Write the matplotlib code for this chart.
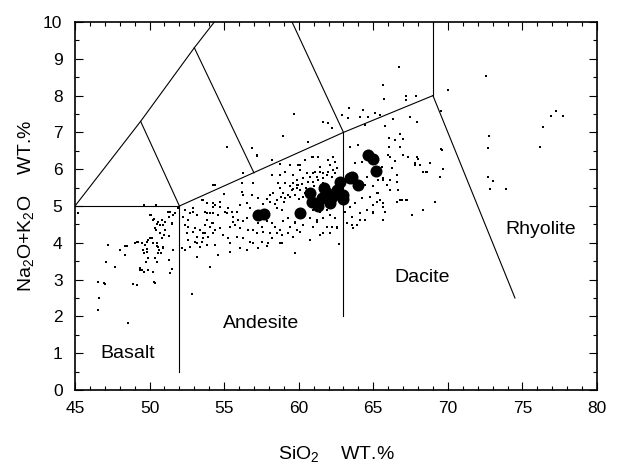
import matplotlib
matplotlib.use("Agg")
import matplotlib.pyplot as plt
from matplotlib.ticker import MultipleLocator

plt.rcParams['font.family'] = ['Liberation Sans', 'DejaVu Sans']
plt.rcParams['mathtext.default'] = 'regular'

# small dots: SiO2 and Na2O+K2O
small_sio2 = [
    # basalt field
    47.2, 48.35, 47.1, 47.7, 46.56, 46.95, 46.6, 46.52, 48.53, 48.87, 49.14, 50.3, 49.0, 49.36, 49.6, 50.25,
    50.08, 51.26, 51.55, 51.33, 50.3, 50.81, 50.48, 51.04, 51.48, 50.92, 50.43, 50.99, 51.33, 50.14, 49.92,
    49.81, 50.25, 49.25, 50.48, 49.7, 50.59, 50.88, 51.6, 49.58, 49.85, 50.66, 49.63, 50.75, 50.37, 51.33,
    49.76, 50.48, 49.47, 51.48, 50.25, 51.37, 50.37,
    45.22, 49.6, 50.4, 50.03, 50.25, 51.37, 51.7, 50.59, 50.7, 51.48, 50.36, 51.03, 50.7, 50.03, 50.81,
    49.14, 49.47, 48.02, 48.46, 49.81, 50.48, 50.92, 50.59, 49.92, 48.35, 49.36, 49.92, 51.9, 47.0,
    # andesite, low silica side
    52.15, 52.38, 52.71, 52.27, 52.6, 52.94, 53.2, 52.38, 52.49, 53.05, 53.38, 52.6, 53.16, 53.16, 52.71,
    53.38, 52.38, 53.72, 53.94, 52.82, 52.93, 53.49, 53.72, 54.05, 53.83, 54.28, 54.28, 52.6, 52.93, 53.61,
    54.05, 53.05, 53.49, 53.83, 53.16, 54.05,
    # andesite, main cloud
    54.39, 54.99, 56.17, 56.29, 56.85, 57.29, 58.07, 58.3, 58.63, 58.75, 58.97, 58.52, 59.08, 59.42, 59.08,
    59.53, 59.86, 53.83, 54.39, 54.72, 55.28, 55.84, 56.06, 56.51, 56.73, 58.52, 58.86, 53.83, 54.28, 54.61,
    55.17, 55.62, 55.95, 56.29, 56.51, 57.29, 57.52, 57.85, 58.19, 58.41, 58.75, 58.97, 59.3, 59.42, 59.75,
    59.86, 53.72, 54.16, 54.39, 54.72, 55.39, 55.73, 56.06, 56.62, 56.96, 57.18, 57.63, 58.07, 58.52, 58.86,
    59.3, 59.64, 54.28, 53.6, 54.95, 55.28, 55.84, 56.29, 56.73, 56.96, 57.52, 57.97, 58.75, 54.39, 55.39,
    56.06, 56.51, 57.29, 57.85, 54.61, 55.39, 59.75, 54.05,
    57.18, 58.19, 58.75, 59.42, 59.97, 59.08, 58.75, 58.19, 59.64, 60.09, 60.87, 61.32, 61.99, 60.98, 61.43,
    56.29, 56.17, 56.96, 54.39, 53.6, 54.27, 54.72, 55.06, 55.5, 53.72, 55.62,
    60.09, 60.76, 59.75, 58.86, 58.19, 61.43, 62.21, 61.2,
    # andesite / dacite streak
    60.65, 60.98, 60.09, 60.42, 62.32, 62.43, 61.99, 62.1, 61.43, 61.09, 60.53, 60.76, 60.31, 59.86, 61.65,
    61.99, 62.32, 62.55, 59.64, 59.42, 59.97, 60.98, 61.32, 61.65, 63.44, 64.0, 64.22, 63.77, 64.56, 64.45,
    65.0, 65.34, 65.67, 65.23, 65.45, 64.78, 64.22, 63.77, 63.44, 63.1, 63.55, 64.11, 64.56, 65.0, 65.67,
    65.67, 63.22, 63.89, 59.53, 59.75, 60.09, 60.31, 60.98, 61.43, 61.87, 60.76, 61.2, 61.65, 62.1, 62.43,
    59.75, 60.31, 60.98, 61.87, 62.55,
    59.6, 59.9, 60.2, 60.5, 60.6, 61.0, 61.2, 61.6, 61.9, 62.2, 62.4, 60.0, 60.4, 59.3, 59.0, 58.8, 58.4,
    58.1, 57.9, 57.6, 57.8,
    # dacite field
    66.08, 66.01, 67.02, 67.35, 68.02, 66.46, 67.8, 68.13, 68.36, 68.8, 68.58, 69.59, 69.65, 69.47, 66.23,
    66.57, 65.67, 66.12, 65.9, 66.57, 66.12, 65.34, 65.23, 65.0, 65.67, 66.57, 66.9, 67.24, 66.68, 69.14,
    68.36, 67.57, 65.79, 65.0, 64.45, 64.11, 63.66, 63.55, 62.7, 62.1, 61.65, 62.54,
    66.79, 67.02, 67.35, 67.91, 66.12, 66.46, 65.56, 66.79, 67.2, 67.8, 68.54,
    # trachytic fields and above
    66.75, 65.63, 65.74, 67.2, 67.2, 67.86, 64.33, 63.4, 63.33, 64.11, 64.67, 65.12, 65.45, 62.88, 61.99,
    61.65, 62.21, 66.35, 67.46, 67.91, 64.45, 65.79, 66.79, 67.02, 66.08,
    59.68, 58.97, 55.21, 56.85, 57.18, 54.27,
    # rhyolite side
    70.03, 72.56, 72.78, 72.71, 76.18, 76.89, 77.23, 77.7, 76.4, 72.72, 73.0, 72.83, 73.9, 69.52, 69.52,
]
small_alk = [
    3.94, 3.90, 3.49, 3.35, 2.93, 2.90, 2.51, 2.17, 1.81, 2.88, 2.85, 2.93, 4.0, 3.26, 3.2, 3.2,
    4.76, 4.85, 4.76, 4.70, 4.64, 4.62, 4.51, 4.57, 4.51, 4.48, 4.35, 4.21, 4.18, 4.12, 4.08,
    4.03, 3.99, 4.03, 4.0, 3.94, 3.89, 3.89, 3.8, 3.8, 3.82, 3.8, 3.71, 3.71, 3.58, 3.53,
    3.49, 3.49, 3.26, 3.29, 3.22, 3.17, 2.92,
    4.8, 5.03, 5.03, 4.76, 4.62, 4.85, 4.8, 4.57, 4.48, 4.53, 4.39, 4.35, 4.26, 4.12, 4.12,
    4.03, 3.99, 3.8, 3.9, 3.76, 3.9, 3.85, 3.71, 3.58, 3.67, 3.31, 3.26, 4.95, 2.88,
    3.85, 4.89, 4.8, 4.71, 4.62, 4.85, 4.75, 4.48, 4.26, 4.39, 4.35, 4.08, 4.17, 3.99, 3.89,
    3.89, 3.8, 4.26, 4.17, 2.62, 4.94, 5.16, 4.85, 4.8, 4.62, 4.98, 4.53, 4.44, 4.3, 4.26,
    4.44, 4.03, 4.03, 3.94, 3.62, 3.35,
    5.57, 5.33, 5.39, 5.3, 5.3, 5.21, 5.3, 5.35, 5.62, 5.48, 5.35, 5.16, 5.21, 5.25, 5.62,
    5.43, 5.57, 5.07, 5.03, 4.98, 4.94, 4.85, 5.03, 5.07, 4.94, 4.94, 4.89, 4.8, 4.8, 4.76,
    4.8, 4.71, 4.62, 4.58, 4.67, 4.53, 4.44, 4.58, 4.53, 4.44, 4.35, 4.58, 4.67, 4.44, 4.53,
    4.35, 4.48, 4.53, 4.35, 4.39, 4.44, 4.48, 4.39, 4.35, 4.35, 4.26, 4.3, 4.26, 4.26, 4.21,
    4.26, 4.17, 4.26, 4.12, 4.21, 4.12, 4.17, 4.12, 4.03, 3.99, 4.03, 3.99, 3.99, 3.94, 3.99,
    3.85, 3.8, 3.85, 3.9, 3.67, 3.76, 3.71, 3.33,
    6.36, 6.25, 6.14, 6.11, 6.11, 5.93, 5.84, 5.84, 5.84, 5.98, 6.34, 6.32, 6.25, 5.89, 5.93,
    5.89, 5.62, 5.62, 5.57, 5.16, 5.07, 5.12, 4.85, 4.85, 4.85, 4.57,
    4.3, 4.08, 3.71, 3.99, 4.12, 4.21, 4.44, 4.62,
    6.75, 6.34, 6.11, 6.25, 6.34, 6.2, 6.25, 6.11, 6.07, 5.93, 5.89, 5.8, 5.75, 5.71, 5.89,
    5.93, 5.98, 6.02, 5.62, 5.53, 5.57, 5.66, 5.71, 5.62, 6.61, 6.66, 6.2, 6.16, 5.8, 5.57,
    5.53, 5.71, 5.75, 5.34, 5.16, 5.25, 5.21, 5.07, 4.98, 4.85, 4.71, 4.8, 4.89, 4.85, 4.98,
    4.62, 4.53, 4.48, 5.43, 5.3, 5.43, 5.25, 4.89, 4.85, 4.89, 4.67, 4.57, 4.67, 4.76, 4.67,
    4.57, 4.48, 4.42, 4.42, 4.44,
    5.45, 5.5, 5.6, 5.5, 5.65, 5.55, 5.8, 5.75, 5.85, 5.8, 5.9, 5.2, 5.35, 5.3, 5.1, 5.25, 5.05,
    5.1, 5.2, 5.05, 4.9,
    6.59, 6.39, 6.39, 6.34, 6.29, 6.79, 6.11, 6.11, 5.93, 6.16, 5.93, 6.52, 6.0, 5.78, 6.02,
    5.84, 5.71, 5.71, 5.57, 5.66, 5.43, 5.34, 5.12, 5.03, 5.07, 5.12, 5.16, 5.16, 5.43, 5.12,
    4.89, 4.76, 4.85, 4.8, 4.62, 4.62, 4.39, 4.48, 3.97, 4.26, 4.26, 4.39,
    6.61, 6.39, 6.34, 6.34, 6.34, 6.21, 6.07, 5.16, 5.16, 6.16, 5.93,
    8.79, 8.29, 7.9, 7.99, 7.88, 7.99, 7.61, 7.65, 7.38, 7.43, 7.43, 7.52, 7.47, 7.47, 7.25,
    7.29, 7.11, 7.36, 7.43, 7.29, 7.2, 7.17, 6.97, 6.81, 6.84,
    7.49, 6.9, 6.61, 6.57, 6.39, 5.57,
    8.15, 8.53, 6.9, 6.57, 6.61, 7.45, 7.57, 7.45, 7.15, 5.78, 5.69, 5.47, 5.47, 6.55, 7.57,
]

# large dots
big_sio2 = [57.3, 57.7, 60.09, 60.76, 60.87, 61.54, 61.88, 62.10, 61.7, 62.2, 61.3,
            62.55, 62.77, 62.97, 63.0, 63.44, 63.55, 63.99, 64.67, 64.96, 65.16]
big_alk = [4.75, 4.78, 4.82, 5.35, 5.12, 5.21, 5.35, 5.07, 5.5, 5.25, 5.0,
           5.43, 5.66, 5.30, 5.2, 5.76, 5.80, 5.57, 6.39, 6.27, 5.95]

# field boundaries (SiO2, Na2O+K2O vertices)
boundaries = [
    [(45, 5), (52, 5)],
    [(52, 0.5), (52, 5)],
    [(52, 5), (63, 7), (69, 8)],
    [(63, 2), (63, 7)],
    [(69, 8), (69, 10)],
    [(69, 8), (74.5, 2.5)],
    [(45, 5), (49.4, 7.3), (53, 9.3), (57.6, 11.7)],
    [(49.4, 7.3), (52, 5)],
    [(53, 9.3), (57, 5.9)],
    [(57.6, 11.7), (63, 7)],
]

field_names = ['Basalt', 'Andesite', 'Dacite', 'Rhyolite']
field_sio2 = [48.5, 57.5, 68.3, 76.2]
field_alk = [1.0, 1.8, 3.05, 4.35]

fig = plt.figure(figsize=(6.18, 4.68), dpi=100)
ax = fig.add_axes([75/618, 78/468, 522/618, 368/468])

for seg in boundaries:
    xs = [p[0] for p in seg]
    ys = [p[1] for p in seg]
    ax.plot(xs, ys, color='black', lw=0.8, zorder=2)

ax.scatter(small_sio2, small_alk, s=1.8, marker='s', color='black', linewidths=0, zorder=3)
ax.scatter(big_sio2, big_alk, s=75, marker='o', color='black', linewidths=0, zorder=4)

for name, sx, sy in zip(field_names, field_sio2, field_alk):
    ax.text(sx, sy, name, fontsize=14, ha='center', va='center')

ax.set_xlim(45, 80)
ax.set_ylim(0, 10)
ax.xaxis.set_major_locator(MultipleLocator(5))
ax.xaxis.set_minor_locator(MultipleLocator(1))
ax.yaxis.set_major_locator(MultipleLocator(1))
ax.yaxis.set_minor_locator(MultipleLocator(0.5))
ax.tick_params(which='both', direction='in', top=True, right=True, width=0.8)
ax.tick_params(which='major', length=6, labelsize=12.5)
ax.tick_params(which='minor', length=3)
ax.tick_params(axis='x', pad=8)
ax.tick_params(axis='y', pad=9)
for sp in ax.spines.values():
    sp.set_linewidth(1.2)

ax.set_xlabel('SiO$_2$    WT.%', fontsize=14, labelpad=20)
ax.set_ylabel('Na$_2$O+K$_2$O    WT.%', fontsize=14, labelpad=5)

fig.savefig('out.png', dpi=100)
